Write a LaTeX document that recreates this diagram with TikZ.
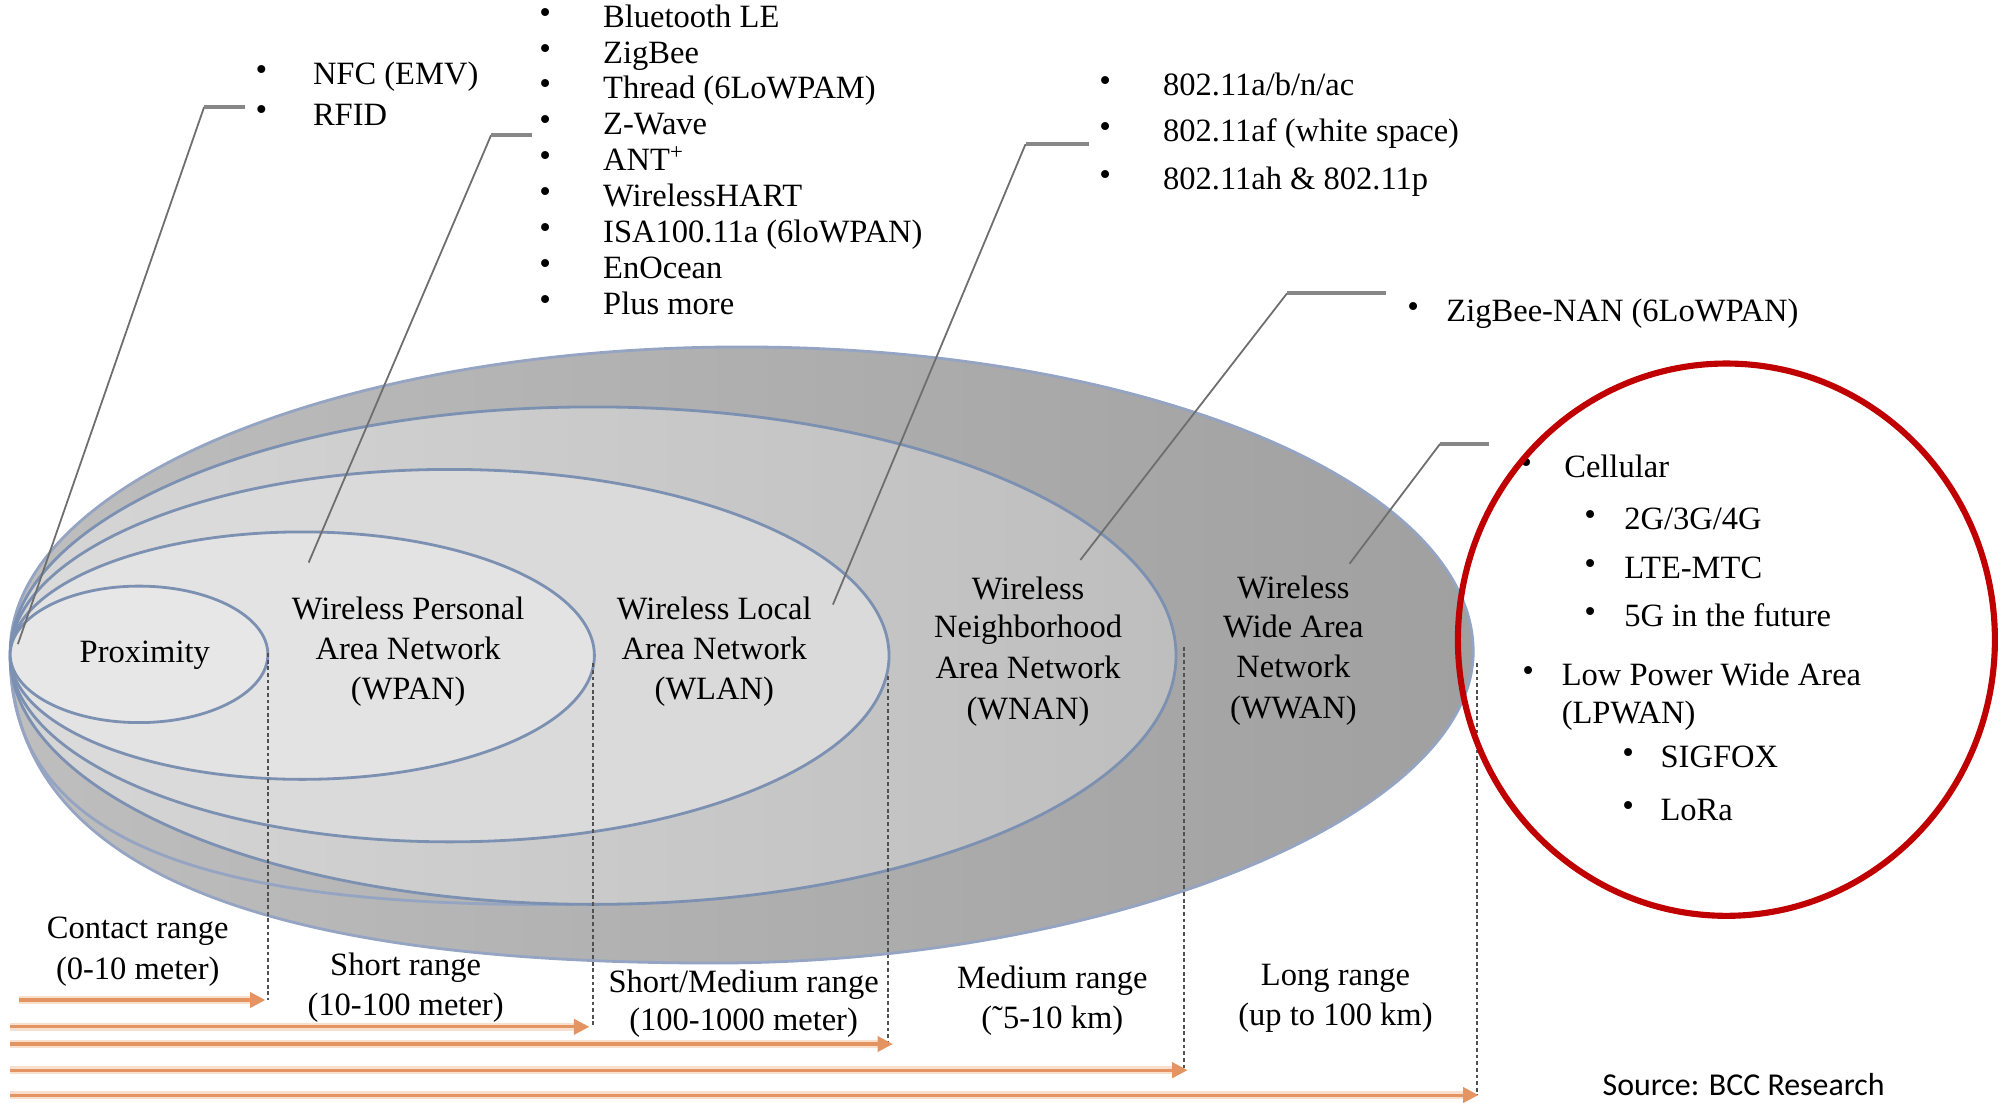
\documentclass[tikz,border=0pt]{standalone}
\usepackage{fontspec}
\setmainfont{Liberation Serif}
\newfontfamily\srcfont{Carlito}
\usetikzlibrary{arrows.meta,shapes.geometric}

\definecolor{edgeblue}{RGB}{124,144,178}
\definecolor{outeredge}{RGB}{148,164,194}
\definecolor{wwanL}{RGB}{190,190,190}
\definecolor{wwanR}{RGB}{160,160,160}
\definecolor{wnanL}{RGB}{214,214,214}
\definecolor{wnanR}{RGB}{190,190,190}
\definecolor{wlanfill}{RGB}{218,218,218}
\definecolor{wpanfill}{RGB}{227,227,227}
\definecolor{proxfill}{RGB}{231,231,231}
\definecolor{leadgrey}{RGB}{110,110,110}
\definecolor{stubgrey}{RGB}{135,135,135}
\definecolor{dashgrey}{RGB}{80,80,80}
\definecolor{rangeor}{RGB}{228,148,96}
\definecolor{rangehalo}{RGB}{249,224,206}
\definecolor{circred}{RGB}{192,0,0}

\tikzset{
  zone/.style={ellipse, draw=edgeblue, line width=1.1pt, inner sep=0pt, outer sep=0pt},
  lead/.style={draw=leadgrey, line width=0.7pt},
  stub/.style={draw=stubgrey, line width=1.5pt},
  rangeline/.style={draw=dashgrey, dash pattern=on 1.5pt off 1.1pt, line width=0.65pt},
  halo/.style={draw=rangehalo, line width=3pt, shorten >=5pt},
  rangearrow/.style={draw=rangeor, line width=1.2pt, -{Triangle[length=6pt,width=6pt]}},
  lbl/.style={anchor=base, inner sep=0pt, font=\fontsize{12.75}{15.5}\selectfont},
  itm/.style={anchor=base west, inner sep=0pt, font=\fontsize{12.75}{15.5}\selectfont},
  bul/.style={inner sep=0pt, font=\fontsize{13}{13}\selectfont},
}

\begin{document}
\begin{tikzpicture}[x=0.5pt, y=-0.5pt]
\useasboundingbox (0,0) rectangle (1568,864);

% ---- nested coverage zones ----
% outer WWAN disc: elliptic top, fuller lower-left belly
\path[draw=outeredge, line width=1.1pt, left color=wwanL, right color=wwanR]
  (1155,511) arc[start angle=0, end angle=180, x radius=286.75pt, y radius=119.5pt]
  .. controls (8,700) and (250,755) .. (560,755)
  .. controls (870,755) and (1155,640) .. (1155,511) -- cycle;
% lower rim of the WNAN disc
\draw[draw=outeredge, line width=1.1pt]
  (8,514) .. controls (8,660) and (160,712) .. (450,709);
\node[zone, left color=wnanL, right color=wnanR,
      minimum width=457pt, minimum height=195pt] (wnan) at (465,514) {};
\node[zone, fill=wlanfill, minimum width=344.5pt, minimum height=146pt] (wlan) at (352.5,514) {};
\node[zone, fill=wpanfill, minimum width=229pt, minimum height=97pt] (wpan) at (237,514) {};
\node[zone, fill=proxfill, minimum width=101pt, minimum height=53.5pt] (prox) at (109,513) {};

% ---- zone labels ----
\node[lbl] (proxA) at (113.5,519) {Proximity};
\node[lbl] (wpanA) at (320,486) {Wireless Personal};
\node[lbl] (wpanB) at (320,517) {Area Network};
\node[lbl] (wpanC) at (320,548) {(WPAN)};
\node[lbl] (wlanA) at (560,486) {Wireless Local};
\node[lbl] (wlanB) at (560,517) {Area Network};
\node[lbl] (wlanC) at (560,548) {(WLAN)};
\node[lbl] (wnanA) at (806,470) {Wireless};
\node[lbl] (wnanB) at (806,500) {Neighborhood};
\node[lbl] (wnanC) at (806,532) {Area Network};
\node[lbl] (wnanD) at (806,564) {(WNAN)};
\node[lbl] (wwanA) at (1014,469) {Wireless};
\node[lbl] (wwanB) at (1014,500) {Wide Area};
\node[lbl] (wwanC) at (1014,531.5) {Network};
\node[lbl] (wwanD) at (1014,563) {(WWAN)};

% ---- range boundaries and arrows ----
\coordinate (s1) at (15,784);   \coordinate (t1) at (208,784);
\coordinate (s2) at (8,805);    \coordinate (t2) at (462,805);
\coordinate (s3) at (8,818.5);  \coordinate (t3) at (700,818.5);
\coordinate (s4) at (8,839);    \coordinate (t4) at (931,839);
\coordinate (s5) at (8,858.5);  \coordinate (t5) at (1159,858.5);

\coordinate (d1) at (210,512);  \coordinate (e1) at (210,784);
\coordinate (d2) at (465,520);  \coordinate (e2) at (465,805);
\coordinate (d3) at (696,530);  \coordinate (e3) at (696,818.5);
\coordinate (d4) at (928,507);  \coordinate (e4) at (928,839);
\coordinate (d5) at (1158,520); \coordinate (e5) at (1158,858.5);
\foreach \i in {1,...,5} {
  \draw[rangeline] (d\i) -- (e\i);
}
\foreach \i in {1,...,5} {
  \draw[halo] (s\i) -- (t\i);
  \draw[rangearrow] (s\i) -- (t\i);
}

\node[lbl] (rgA1) at (108,736) {Contact range};
\node[lbl] (rgA2) at (108,768) {(0-10 meter)};
\node[lbl] (rgB1) at (318,765) {Short range};
\node[lbl] (rgB2) at (318,796) {(10-100 meter)};
\node[lbl] (rgC1) at (583,778) {Short/Medium range};
\node[lbl] (rgC2) at (583,808) {(100-1000 meter)};
\node[lbl] (rgD1) at (825,775) {Medium range};
\node[lbl] (rgD2) at (825,806) {(˜5-10 km)};
\node[lbl] (rgE1) at (1047,773) {Long range};
\node[lbl] (rgE2) at (1047,804) {(up to 100 km)};

% ---- leader lines from zones to technology lists ----
\coordinate (l1e) at (14,505);    \coordinate (l1k) at (160,84);   \coordinate (l1t) at (192,84);
\coordinate (l2e) at (242,441);   \coordinate (l2k) at (385,106);  \coordinate (l2t) at (417,106);
\coordinate (l3e) at (653,474);   \coordinate (l3k) at (804,113);  \coordinate (l3t) at (854,113);
\coordinate (l4e) at (847,439);   \coordinate (l4k) at (1009,230); \coordinate (l4t) at (1087,230);
\coordinate (l5e) at (1058,442);  \coordinate (l5k) at (1129,348); \coordinate (l5t) at (1167,348);
\foreach \i in {1,...,5} {
  \draw[lead] (l\i e) -- (l\i k);
  \draw[stub] (l\i k) -- (l\i t);
}

% ---- proximity technologies ----
\node[bul] (b11) at (205,57.6) {•};  \node[itm] (i11) at (245,66.6) {NFC (EMV)};
\node[bul] (b12) at (205,89)   {•};  \node[itm] (i12) at (245,98)   {RFID};

% ---- WPAN technologies ----
\node[bul] (b21) at (427.5,12.4)  {•}; \node[itm] (i21) at (472.5,21.4)  {Bluetooth LE};
\node[bul] (b22) at (427.5,40.5)  {•}; \node[itm] (i22) at (472.5,49.5)  {ZigBee};
\node[bul] (b23) at (427.5,68.6)  {•}; \node[itm] (i23) at (472.5,77.6)  {Thread (6LoWPAM)};
\node[bul] (b24) at (427.5,96.7)  {•}; \node[itm] (i24) at (472.5,105.7) {Z-Wave};
\node[bul] (b25) at (427.5,124.8) {•}; \node[itm] (i25) at (472.5,133.8) {ANT\textsuperscript{+}};
\node[bul] (b26) at (427.5,152.9) {•}; \node[itm] (i26) at (472.5,161.9) {WirelessHART};
\node[bul] (b27) at (427.5,181)   {•}; \node[itm] (i27) at (472.5,190)   {ISA100.11a (6loWPAN)};
\node[bul] (b28) at (427.5,209.1) {•}; \node[itm] (i28) at (472.5,218.1) {EnOcean};
\node[bul] (b29) at (427.5,237.2) {•}; \node[itm] (i29) at (472.5,246.2) {Plus more};

% ---- WLAN technologies ----
\node[bul] (b31) at (866.5,65.5)  {•}; \node[itm] (i31) at (911.5,74.5)  {802.11a/b/n/ac};
\node[bul] (b32) at (866.5,102)   {•}; \node[itm] (i32) at (911.5,111)   {802.11af (white space)};
\node[bul] (b33) at (866.5,139.5) {•}; \node[itm] (i33) at (911.5,148.5) {802.11ah \& 802.11p};

% ---- WNAN technologies ----
\node[bul] (b41) at (1108,243) {•}; \node[itm] (i41) at (1133.6,252) {ZigBee-NAN (6LoWPAN)};

% ---- WWAN technologies ----
\node[bul] (b51) at (1196.5,365)  {•}; \node[itm] (i51) at (1226,374)    {Cellular};
\node[bul] (b52) at (1246.6,406.5) {•}; \node[itm] (i52) at (1273,415.5) {2G/3G/4G};
\node[bul] (b53) at (1246.6,444.8) {•}; \node[itm] (i53) at (1273,453.8) {LTE-MTC};
\node[bul] (b54) at (1246.6,482.2) {•}; \node[itm] (i54) at (1273,491.2) {5G in the future};
\node[bul] (b55) at (1198,528.8)  {•}; \node[itm] (i55) at (1224,537.8)  {Low Power Wide Area};
\node[itm] (i56) at (1224,567.6) {(LPWAN)};
\node[bul] (b57) at (1276.4,593)  {•}; \node[itm] (i57) at (1301.5,602)  {SIGFOX};
\node[bul] (b58) at (1276.4,634.4) {•}; \node[itm] (i58) at (1301.5,643.4) {LoRa};

% ---- highlight ring ----
\node[ellipse, draw=circred, line width=2.4pt, inner sep=0pt,
      minimum width=210.5pt, minimum height=216.5pt] (ring) at (1353.5,501.5) {};

% ---- credit ----
\node[anchor=base, inner sep=0pt, font=\srcfont\fontsize{12.5}{15}\selectfont] (src) at (1367,859) {Source: BCC Research};
\end{tikzpicture}
\end{document}
